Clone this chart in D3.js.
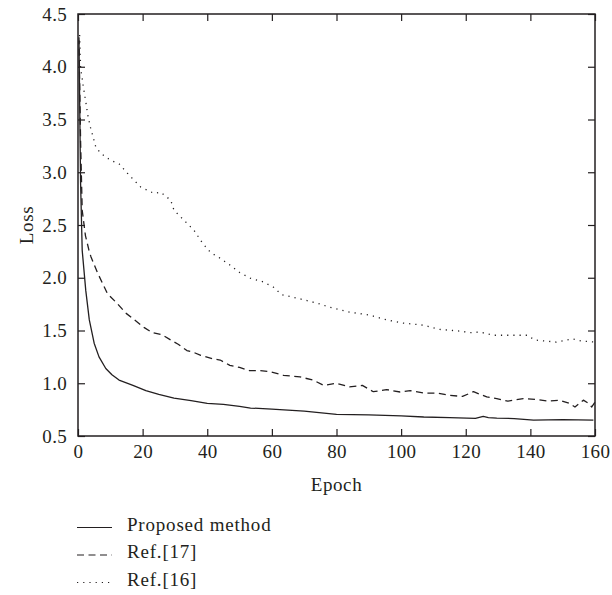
<!DOCTYPE html>
<html>
<head>
<meta charset="utf-8">
<script src="https://cdn.jsdelivr.net/npm/d3@7"></script>
<style>
  html, body { margin: 0; padding: 0; background: #fff; }
  svg { display: block; }
  text { font-family: "Liberation Serif", "Times New Roman", serif; fill: #231f20; }
</style>
</head>
<body>
<svg id="chart" width="612" height="595"></svg>
<script>
// ---- data ----
const xTicks = [0, 20, 40, 60, 80, 100, 120, 140, 160];
const yTicks = [0.5, 1.0, 1.5, 2.0, 2.5, 3.0, 3.5, 4.0, 4.5];

const proposedEpoch = [0.3, 0.8, 1.3, 2.4, 3.5, 5, 6.5, 8.6, 10.5, 12.7, 17, 21, 25, 29.7, 35, 40, 45, 50, 53.4, 60, 70, 80, 90, 100, 107, 115, 123, 125.4, 127, 129.6, 135, 141, 150, 159.5];
const proposedLoss  = [4.25, 2.9, 2.26, 1.88, 1.6, 1.38, 1.25, 1.14, 1.08, 1.03, 0.98, 0.93, 0.895, 0.86, 0.835, 0.81, 0.8, 0.78, 0.765, 0.755, 0.735, 0.705, 0.7, 0.69, 0.68, 0.675, 0.667, 0.685, 0.675, 0.67, 0.665, 0.65, 0.655, 0.65];

const ref17Epoch = [0.3, 0.8, 1.3, 2.3, 3.4, 4, 6, 9.1, 12, 15, 20.4, 23, 26, 28.7, 31, 33.7, 36, 38, 42, 44, 47, 50, 53, 56, 59.4, 63.6, 68.7, 72.8, 76, 80, 84, 88, 91.4, 95.5, 99.7, 102.8, 107, 111, 115, 119, 122.4, 126.5, 129.6, 133, 137.8, 142, 145.5, 149, 152, 153.8, 156.4, 158, 159, 160];
const ref17Loss  = [4.28, 3.3, 2.64, 2.4, 2.26, 2.2, 2.05, 1.85, 1.76, 1.66, 1.53, 1.48, 1.46, 1.41, 1.37, 1.31, 1.29, 1.265, 1.23, 1.22, 1.17, 1.15, 1.12, 1.12, 1.11, 1.075, 1.06, 1.03, 0.98, 1.0, 0.965, 0.98, 0.92, 0.94, 0.917, 0.93, 0.907, 0.907, 0.885, 0.875, 0.92, 0.87, 0.855, 0.83, 0.855, 0.845, 0.83, 0.84, 0.81, 0.775, 0.84, 0.81, 0.775, 0.82];

const ref16Epoch = [0.5, 0.8, 1.65, 2.4, 3.1, 3.9, 5.5, 7, 10, 12.7, 15.3, 17.8, 19.4, 23.5, 25.6, 28.7, 29.7, 32.8, 35.9, 38.5, 41, 44, 47, 50, 53.4, 57.4, 60.5, 63, 68.7, 73.9, 78, 84, 90.4, 95.5, 100.7, 107, 112, 118, 121.3, 124.4, 128.5, 139, 141.4, 148, 153, 156, 160];
const ref16Loss  = [4.3, 4.0, 3.81, 3.67, 3.53, 3.42, 3.24, 3.18, 3.115, 3.08, 2.99, 2.91, 2.86, 2.8, 2.81, 2.735, 2.64, 2.545, 2.45, 2.33, 2.24, 2.185, 2.12, 2.05, 1.995, 1.96, 1.91, 1.84, 1.8, 1.76, 1.72, 1.675, 1.645, 1.6, 1.57, 1.55, 1.51, 1.495, 1.48, 1.485, 1.455, 1.455, 1.41, 1.39, 1.42, 1.4, 1.39];

const seriesNames = ["Proposed method", "Ref.[17]", "Ref.[16]"];

// ---- layout ----
const svg = d3.select("#chart");
const L = 78, R = 595, T = 14, B = 436;
const fontSize = 19;
const ink = "#231f20";

const x = d3.scaleLinear().domain([0, 160]).range([L, R]);
const y = d3.scaleLinear().domain([0.5, 4.5]).range([B, T]);

const styles = [
  { dash: null },
  { dash: "7,4.5" },
  { dash: "1.2,5" }
];

const series = [
  d3.zip(proposedEpoch, proposedLoss),
  d3.zip(ref17Epoch, ref17Loss),
  d3.zip(ref16Epoch, ref16Loss)
];

const line = d3.line().x(d => x(d[0])).y(d => y(d[1]));

const plot = svg.append("g");
series.forEach((s, i) => {
  plot.append("path")
    .datum(s)
    .attr("d", line)
    .attr("fill", "none")
    .attr("stroke", ink)
    .attr("stroke-width", 1.3)
    .attr("stroke-linejoin", "round")
    .attr("stroke-dasharray", styles[i].dash);
});

// ---- axes (inward ticks on all four sides) ----
const tk = 7;
function styleAxis(g) {
  g.select(".domain").remove();
  g.selectAll(".tick line").attr("stroke", ink).attr("stroke-width", 1.2);
  g.selectAll(".tick text")
    .attr("font-family", '"Liberation Serif", "Times New Roman", serif')
    .attr("font-size", fontSize)
    .attr("letter-spacing", 0.3)
    .attr("fill", ink);
}

svg.append("g").attr("transform", `translate(0,${B})`)
  .call(d3.axisBottom(x).tickValues(xTicks).tickSize(-tk).tickSizeOuter(0).tickPadding(8.5).tickFormat(d3.format("d")))
  .call(styleAxis);

svg.append("g").attr("transform", `translate(${L},0)`)
  .call(d3.axisLeft(y).tickValues(yTicks).tickSize(-tk).tickSizeOuter(0).tickPadding(11).tickFormat(d3.format(".1f")))
  .call(styleAxis);

svg.append("g").attr("transform", `translate(0,${T})`)
  .call(d3.axisTop(x).tickValues(xTicks).tickSize(-tk).tickSizeOuter(0).tickFormat(""))
  .call(styleAxis);

svg.append("g").attr("transform", `translate(${R},0)`)
  .call(d3.axisRight(y).tickValues(yTicks).tickSize(-tk).tickSizeOuter(0).tickFormat(""))
  .call(styleAxis);

// frame
svg.append("rect")
  .attr("x", L).attr("y", T).attr("width", R - L).attr("height", B - T)
  .attr("fill", "none").attr("stroke", ink).attr("stroke-width", 1.5);

// axis titles
svg.append("text")
  .attr("x", (L + R) / 2).attr("y", 491)
  .attr("text-anchor", "middle")
  .attr("font-size", fontSize)
  .attr("letter-spacing", 0.6)
  .text("Epoch");

svg.append("text")
  .attr("transform", `translate(33,${(T + B) / 2}) rotate(-90)`)
  .attr("text-anchor", "middle")
  .attr("font-size", fontSize)
  .attr("letter-spacing", 0.6)
  .text("Loss");

// ---- legend ----
const legend = svg.append("g");
seriesNames.forEach((name, i) => {
  const by = 530.5 + i * 27.5;
  legend.append("line")
    .attr("x1", 77).attr("x2", 112)
    .attr("y1", by - 3).attr("y2", by - 3)
    .attr("stroke", ink).attr("stroke-width", 1.2)
    .attr("stroke-dasharray", styles[i].dash);
  legend.append("text")
    .attr("x", 127).attr("y", by)
    .attr("font-size", fontSize)
    .attr("letter-spacing", 0.8)
    .text(name);
});
</script>
</body>
</html>
